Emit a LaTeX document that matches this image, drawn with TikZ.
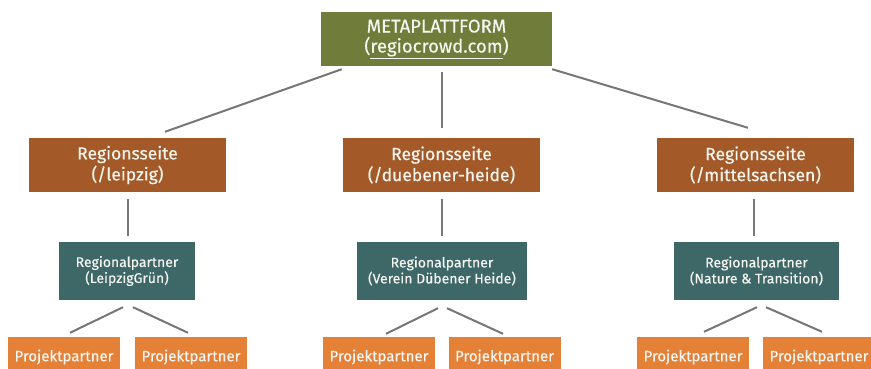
\documentclass[tikz,border=0pt]{standalone}
\usepackage{fontspec}
\setmainfont{Fira Sans}[FakeBold=0.35]
\usetikzlibrary{calc}
\definecolor{olivebox}{RGB}{112,124,58}
\definecolor{brownbox}{RGB}{164,90,40}
\definecolor{tealbox}{RGB}{62,104,104}
\definecolor{orangebox}{RGB}{229,128,55}
\definecolor{linegray}{RGB}{118,118,118}
\definecolor{txt}{RGB}{245,245,240}
\tikzset{
  box/.style={rectangle, inner sep=0pt, align=center, text=txt},
  topbox/.style={box, fill=olivebox, minimum width=231pt, minimum height=54pt, font=\fontsize{18.5}{20}\selectfont},
  rsbox/.style={box, fill=brownbox, minimum width=197pt, minimum height=54pt, font=\fontsize{17.5}{21}\selectfont},
  rpbox/.style={box, fill=tealbox, minimum height=58pt, font=\fontsize{14}{16}\selectfont},
  ppbox/.style={box, fill=orangebox, minimum width=112pt, minimum height=40pt, font=\fontsize{15}{18}\selectfont},
  conn/.style={draw=linegray, line width=2pt}
}
\begin{document}
\begin{tikzpicture}[x=1pt,y=-1pt]
\useasboundingbox (0,0) rectangle (871,369);
\clip (0,0) rectangle (871,369);
\node[topbox] (top) at (436.5,39) {METAPLATTFORM\\(\underline{regiocrowd.com})};
\node[rsbox] (rs1) at (127.5,165) {Regionsseite\\(/leipzig)};
\node[rsbox] (rs2) at (441.5,165) {Regionsseite\\(/duebener-heide)};
\node[rsbox] (rs3) at (755.5,165) {Regionsseite\\(/mittelsachsen)};
\node[rpbox, minimum width=136pt] (rp1) at (127,271) {Regionalpartner\\(LeipzigGrün)};
\node[rpbox, minimum width=170pt] (rp2) at (442,271) {Regionalpartner\\(Verein Dübener Heide)};
\node[rpbox, minimum width=165pt] (rp3) at (756.5,271) {Regionalpartner\\(Nature \& Transition)};
\node[ppbox] (pp1a) at (64,357) {Projektpartner};
\node[ppbox] (pp1b) at (191,357) {Projektpartner};
\node[ppbox] (pp2a) at (379,357) {Projektpartner};
\node[ppbox] (pp2b) at (504.5,357) {Projektpartner};
\node[ppbox] (pp3a) at (693,357) {Projektpartner};
\node[ppbox] (pp3b) at (819,357) {Projektpartner};
% top connectors
\draw[conn] ($(top.south west)+(21,3)$) -- ($(rs1.north)+(37.5,-6)$);
\draw[conn] ($(top.south)+(5.5,6)$) -- ($(rs2.north)+(0.5,-10)$);
\draw[conn] ($(top.south east)+(0,3)$) -- ($(rs3.north)+(-7.5,-10)$);
% region to partner
\draw[conn] ($(rs1.south)+(0.5,7)$) -- ($(rp1.north)+(1,-6)$);
\draw[conn] ($(rs2.south)+(0.5,7)$) -- ($(rp2.north)+(0,-6)$);
\draw[conn] ($(rs3.south)+(-1.5,7)$) -- ($(rp3.north)+(-2.5,-6)$);
% partner to project
\draw[conn] ($(rp1.south)+(-4,7)$) -- ($(pp1a.north)+(6,-4)$);
\draw[conn] ($(rp1.south)+(6,7)$) -- ($(pp1b.north)+(-3,-4)$);
\draw[conn] ($(rp2.south)+(-4,8)$) -- ($(pp2a.north)+(7,-3)$);
\draw[conn] ($(rp2.south)+(5,8)$) -- ($(pp2b.north)+(-1.5,-3)$);
\draw[conn] ($(rp3.south)+(0.5,7)$) -- ($(pp3a.north)+(11,-5)$);
\draw[conn] ($(rp3.south)+(9.5,7)$) -- ($(pp3b.north)+(3,-5)$);
\end{tikzpicture}
\end{document}
